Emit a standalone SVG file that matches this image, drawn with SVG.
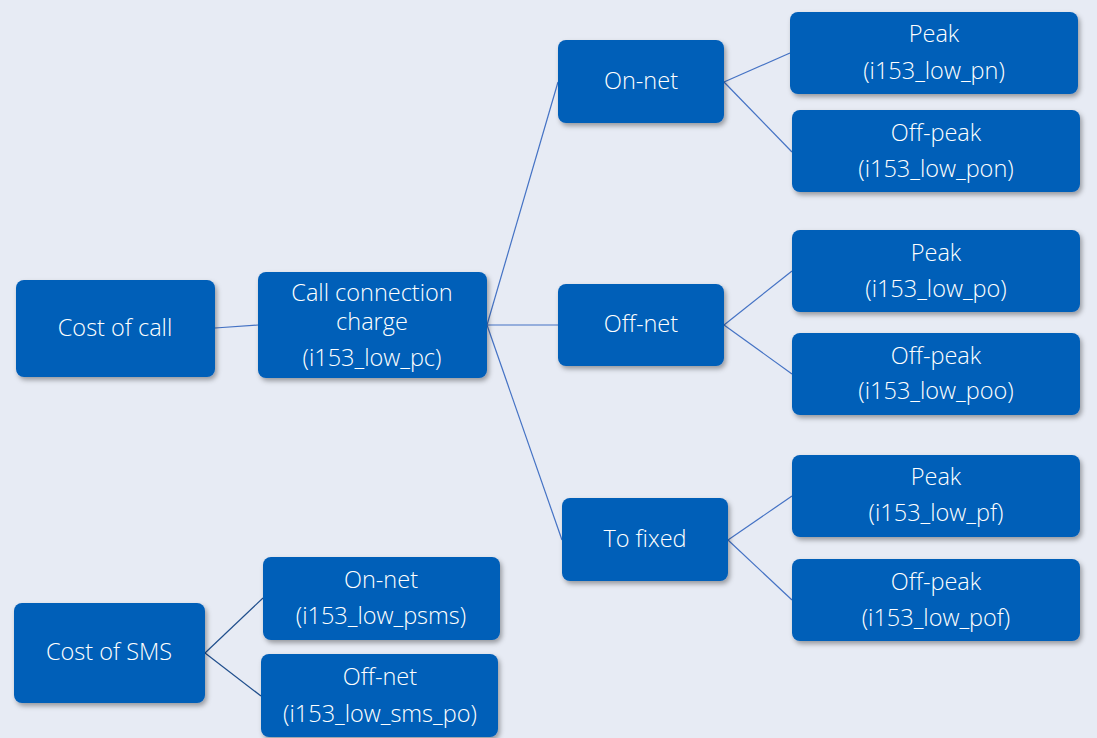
<svg xmlns="http://www.w3.org/2000/svg" width="1097" height="738" viewBox="0 0 1097 738">
<defs>
<filter id="sh" x="-10%" y="-10%" width="125%" height="130%">
<feDropShadow dx="2" dy="3" stdDeviation="2.5" flood-color="#000" flood-opacity="0.35"/>
</filter>
</defs>
<style>
.bx{fill:#005EB8;filter:url(#sh)}
.t{fill:#fff;font-family:"Open Sans","Noto Sans",sans-serif;font-size:23.5px;font-weight:300;text-anchor:middle}
.c{stroke:#4472C4;stroke-width:1.2;fill:none}
.d{stroke:#1F4E8C;stroke-width:1.2;fill:none}
</style>
<rect width="1097" height="738" fill="#E7EBF4"/>
<g id="connectors">
<line class="c" x1="215" y1="328" x2="258" y2="325"/>
<line class="c" x1="487" y1="325" x2="558" y2="82"/>
<line class="c" x1="487" y1="325" x2="558" y2="325"/>
<line class="c" x1="487" y1="325" x2="562" y2="540"/>
<line class="c" x1="724" y1="82" x2="790" y2="53"/>
<line class="c" x1="724" y1="82" x2="792" y2="152"/>
<line class="c" x1="724" y1="325" x2="792" y2="271"/>
<line class="c" x1="724" y1="325" x2="792" y2="374"/>
<line class="c" x1="728" y1="540" x2="792" y2="496"/>
<line class="c" x1="728" y1="540" x2="792" y2="600"/>
<line class="d" x1="205" y1="653" x2="263" y2="598"/>
<line class="d" x1="205" y1="653" x2="261" y2="696"/>
</g>
<g id="cost-of-call"><rect class="bx" x="16" y="280" width="199" height="97" rx="8"/><text class="t" x="115" y="336">Cost of call</text></g>
<g id="call-connection"><rect class="bx" x="258" y="272" width="229" height="106" rx="8"/><text class="t" x="372" y="301">Call connection</text><text class="t" x="372" y="330">charge</text><text class="t" x="372" y="366">(i153_low_pc)</text></g>
<g id="on-net"><rect class="bx" x="558" y="40" width="166" height="83" rx="8"/><text class="t" x="641" y="89">On-net</text></g>
<g id="off-net"><rect class="bx" x="558" y="284" width="166" height="82" rx="8"/><text class="t" x="641" y="332">Off-net</text></g>
<g id="to-fixed"><rect class="bx" x="562" y="498" width="166" height="83" rx="8"/><text class="t" x="645" y="547">To fixed</text></g>
<g id="peak-pn"><rect class="bx" x="790" y="12" width="288" height="82" rx="8"/><text class="t" x="934" y="42">Peak</text><text class="t" x="934" y="79">(i153_low_pn)</text></g>
<g id="offpeak-pon"><rect class="bx" x="792" y="110" width="288" height="82" rx="8"/><text class="t" x="936" y="141">Off-peak</text><text class="t" x="936" y="177">(i153_low_pon)</text></g>
<g id="peak-po"><rect class="bx" x="792" y="230" width="288" height="82" rx="8"/><text class="t" x="936" y="261">Peak</text><text class="t" x="936" y="297">(i153_low_po)</text></g>
<g id="offpeak-poo"><rect class="bx" x="792" y="333" width="288" height="82" rx="8"/><text class="t" x="936" y="364">Off-peak</text><text class="t" x="936" y="399">(i153_low_poo)</text></g>
<g id="peak-pf"><rect class="bx" x="792" y="455" width="288" height="82" rx="8"/><text class="t" x="936" y="485">Peak</text><text class="t" x="936" y="521">(i153_low_pf)</text></g>
<g id="offpeak-pof"><rect class="bx" x="792" y="559" width="288" height="82" rx="8"/><text class="t" x="936" y="590">Off-peak</text><text class="t" x="936" y="626">(i153_low_pof)</text></g>
<g id="cost-of-sms"><rect class="bx" x="14" y="603" width="191" height="100" rx="8"/><text class="t" x="109" y="660">Cost of SMS</text></g>
<g id="sms-on-net"><rect class="bx" x="263" y="557" width="237" height="83" rx="8"/><text class="t" x="381" y="588">On-net</text><text class="t" x="381" y="624">(i153_low_psms)</text></g>
<g id="sms-off-net"><rect class="bx" x="261" y="654" width="237" height="83" rx="8"/><text class="t" x="380" y="685">Off-net</text><text class="t" x="380" y="722">(i153_low_sms_po)</text></g>
</svg>
